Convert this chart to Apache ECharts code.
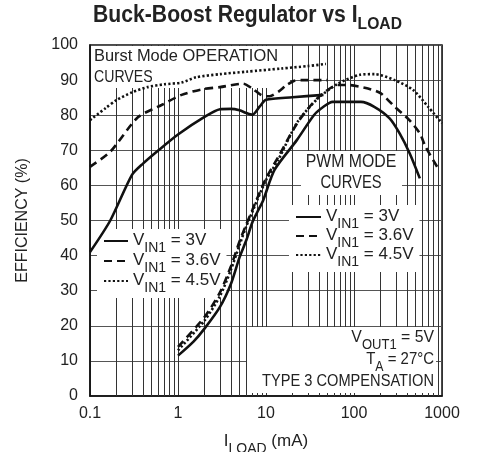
<!DOCTYPE html>
<html><head><meta charset="utf-8">
<script src="https://cdn.jsdelivr.net/npm/echarts@6/dist/echarts.min.js"></script>
<style>html,body{margin:0;padding:0;background:#fff}#c{width:479px;height:452px}</style>
</head><body><div id="c"></div>
<script>
const FONT = '"Liberation Sans", Arial, sans-serif';

// ---- data ----
const xTickLabels = ['0.1', '1', '10', '100', '1000'];
const yTickLabels = ['0','10','20','30','40','50','60','70','80','90','100'];

// Burst Mode operation curves
const burst3V_x  = [0.1, 0.17, 0.3, 0.4, 0.6, 1, 2, 3, 4, 5, 6, 7, 8.5, 10, 20, 45];
const burst3V_y  = [41, 50, 63, 66.2, 70, 74.5, 79.5, 81.7, 81.8, 81.4, 80.6, 80.1, 82.5, 84.4, 85.1, 85.8];
const burst36V_x = [0.1, 0.17, 0.35, 0.65, 1.1, 1.9, 3, 5.5, 7, 9, 11, 14, 17, 21, 25, 50];
const burst36V_y = [65.3, 69.6, 79.4, 82.9, 85.8, 87.4, 88, 89, 87.6, 85.6, 85.4, 86.8, 88.5, 89.8, 90, 90];
const burst45V_x = [0.1, 0.15, 0.2, 0.3, 0.45, 0.7, 1.1, 1.6, 3, 6, 15, 30, 48];
const burst45V_y = [78.6, 82, 84.3, 86.5, 88, 88.8, 89.3, 90.8, 91.7, 92.4, 93.3, 94, 94.6];

// PWM mode curves
const pwm3V_x  = [1, 1.5, 2, 3, 4, 5, 6, 7, 8, 9.3, 12.5, 22.4, 35, 45, 57, 120, 170, 254, 330, 430, 560];
const pwm3V_y  = [11.5, 15.5, 19.2, 25.4, 32, 39.5, 44.5, 49.5, 52.5, 55.8, 64.4, 72.9, 80, 82.4, 83.8, 83.8, 82.4, 79.1, 74.8, 69.1, 62];
const pwm36V_x = [1, 2, 3, 4, 5, 6, 7, 8, 10, 13.7, 23, 39, 66, 85, 144, 202, 290, 426, 560, 650, 880];
const pwm36V_y = [14, 22.5, 29.5, 37, 44, 49, 53, 56.5, 62, 68, 78, 85, 88.6, 88.6, 87.6, 86.2, 82.4, 78.6, 74.8, 71, 65.3];
const pwm45V_x = [1, 2, 3, 4, 5, 6, 7, 8, 10, 13.7, 23, 39, 66, 117, 171, 290, 470, 695, 1000];
const pwm45V_y = [13, 21.5, 28.5, 36, 43, 48.5, 52.5, 56, 61.5, 67.2, 78.2, 84.8, 89, 91.5, 91.7, 90, 87.2, 82.4, 77.7];

const seriesNames = ['3V', '3.6V', '4.5V'];
// ----------------------------------------

function zip(xs, ys) { return xs.map((x, i) => [x, ys[i]]); }

// minor vertical grid positions (2..9 of each decade)
const minorX = [];
[0.1, 1, 10, 100].forEach(d => { for (let k = 2; k <= 9; k++) minorX.push(+(d * k).toPrecision(3)); });

const INK = '#111';
const TXT = '#222';
const styles = {
  '3V':   { type: 'solid', width: 2.6 },
  '3.6V': { type: [8, 5], width: 2.6 },
  '4.5V': { type: [2.2, 2.2], width: 2.6 }
};

function curve(name, xs, ys) {
  return {
    name: name, type: 'line', data: zip(xs, ys), z: 20,
    symbol: 'none', showSymbol: false, smooth: 0.25, animation: false, silent: true,
    lineStyle: { color: INK, width: styles[name].width, type: styles[name].type, cap: 'butt' },
    itemStyle: { color: INK }
  };
}

const rich = {
  v: { fontSize: 17, lineHeight: 18, fontFamily: FONT, color: TXT, fill: TXT, verticalAlign: 'top' },
  s: { fontSize: 14, lineHeight: 12, fontFamily: FONT, color: TXT, fill: TXT, verticalAlign: 'top', padding: [9, 0, 0, 0] }
};

function legendFmt(name) { return '{v|V}{s|IN1}{v| = ' + name + '}'; }

function label(text, x, y, align, sx, size) {
  return {
    type: 'text', z: 9, silent: true, x: x, y: y, scaleX: sx, scaleY: 1,
    style: { text: text, x: 0, y: 0, align: align, verticalAlign: 'middle', fontSize: size || 17, fontFamily: FONT, fill: TXT }
  };
}
function richLabel(text, x, y, align, sx) {
  return {
    type: 'text', z: 9, silent: true, x: x, y: y, scaleX: sx, scaleY: 1,
    style: { text: text, x: 0, y: 0, align: align, verticalAlign: 'top', rich: rich }
  };
}

const chart = echarts.init(document.getElementById('c'), null, { renderer: 'canvas' });
const option = {
  animation: false,
  backgroundColor: '#fff',
  grid: { left: 90, right: 37, top: 45, bottom: 56, show: true, borderColor: INK, borderWidth: 1.5, backgroundColor: 'transparent', containLabel: false, outerBoundsMode: 'none' },
  xAxis: {
    type: 'log', logBase: 10, min: 0.1, max: 1000,
    name: '{v|I}{s|LOAD}{v| (mA)}', nameLocation: 'middle', nameGap: 37,
    nameTextStyle: { rich: rich },
    axisLine: { show: true, lineStyle: { color: INK, width: 1.5 } },
    axisTick: { show: false },
    splitLine: { show: true, lineStyle: { color: '#333', width: 1 } },
    minorTick: { show: false }, minorSplitLine: { show: false },
    axisLabel: {
      margin: 10, fontSize: 16, fontFamily: FONT, color: TXT,
      formatter: v => xTickLabels[Math.round(Math.log10(v)) + 1]
    }
  },
  yAxis: {
    type: 'value', min: 0, max: 100, interval: 10,
    name: 'EFFICIENCY (%)', nameLocation: 'middle', nameGap: 59, nameRotate: 90,
    nameTextStyle: { fontSize: 16, fontFamily: FONT, color: TXT },
    axisLine: { show: true, lineStyle: { color: INK, width: 1.5 } },
    axisTick: { show: false },
    splitLine: { show: true, lineStyle: { color: '#555', width: 1 } },
    axisLabel: { margin: 12, fontSize: 16, fontFamily: FONT, color: TXT, formatter: v => yTickLabels[Math.round(v / 10)] }
  },
  legend: [
    {
      data: seriesNames, orient: 'vertical', left: 97, top: 229,
      itemWidth: 24, itemHeight: 12, itemGap: -3, padding: [3, 6, 3, 6],
      backgroundColor: '#fff', selectedMode: false, z: 10,
      itemStyle: { opacity: 0, borderWidth: 0 },
      formatter: legendFmt, textStyle: { rich: rich }
    },
    {
      data: seriesNames, orient: 'vertical', left: 289, top: 205,
      itemWidth: 25, itemHeight: 12, itemGap: -4, padding: [3, 6, 3, 6],
      backgroundColor: '#fff', selectedMode: false, z: 10,
      itemStyle: { opacity: 0, borderWidth: 0 },
      formatter: legendFmt, textStyle: { rich: rich }
    }
  ],
  graphic: [
    // title
    {
      type: 'text', z: 9, silent: true, x: 247.5, y: 4.5, scaleX: 0.92, scaleY: 1,
      style: {
        text: '{t|Buck-Boost Regulator vs I}{u|LOAD}', x: 0, y: 0, align: 'center', verticalAlign: 'top',
        rich: {
          t: { fontSize: 23, fontWeight: 'bold', fontFamily: FONT, fill: TXT, lineHeight: 24, verticalAlign: 'top' },
          u: { fontSize: 17, fontWeight: 'bold', fontFamily: FONT, fill: TXT, lineHeight: 18, verticalAlign: 'top', padding: [11, 0, 0, 0] }
        }
      }
    },
    // Burst Mode label box
    { type: 'rect', z: 8, silent: true, shape: { x: 91, y: 46, width: 199, height: 42 }, style: { fill: '#fff' } },
    label('Burst Mode OPERATION', 94, 56.5, 'left', 0.966),
    label('CURVES', 94, 77.5, 'left', 0.83),
    // PWM MODE label box
    { type: 'rect', z: 8, silent: true, shape: { x: 301, y: 151, width: 101, height: 44 }, style: { fill: '#fff' } },
    label('PWM MODE', 351, 162.5, 'center', 0.88, 18),
    label('CURVES', 351, 183, 'center', 0.82, 18),
    // conditions box
    { type: 'rect', z: 8, silent: true, shape: { x: 247, y: 327, width: 189, height: 66 }, style: { fill: '#fff' } },
    richLabel('{v|V}{s|OUT1}{v| = 5V}', 434, 329.3, 'right', 0.93),
    richLabel('{v|T}{s|A}{v| = 27°C}', 434, 351, 'right', 0.88),
    label('TYPE 3 COMPENSATION', 434, 381.7, 'right', 0.86)
  ],
  series: [
    {
      name: 'grid-minor', type: 'line', data: [], z: 1, silent: true, animation: false,
      markLine: {
        silent: true, symbol: ['none', 'none'], animation: false,
        label: { show: false },
        lineStyle: { color: '#333', width: 1, type: 'solid' },
        emphasis: { disabled: true },
        data: minorX.map(v => ({ xAxis: v }))
      }
    },
    curve('3V', burst3V_x, burst3V_y),
    curve('3.6V', burst36V_x, burst36V_y),
    curve('4.5V', burst45V_x, burst45V_y),
    curve('3V', pwm3V_x, pwm3V_y),
    curve('3.6V', pwm36V_x, pwm36V_y),
    curve('4.5V', pwm45V_x, pwm45V_y)
  ]
};
chart.setOption(option);
</script>
</body></html>
